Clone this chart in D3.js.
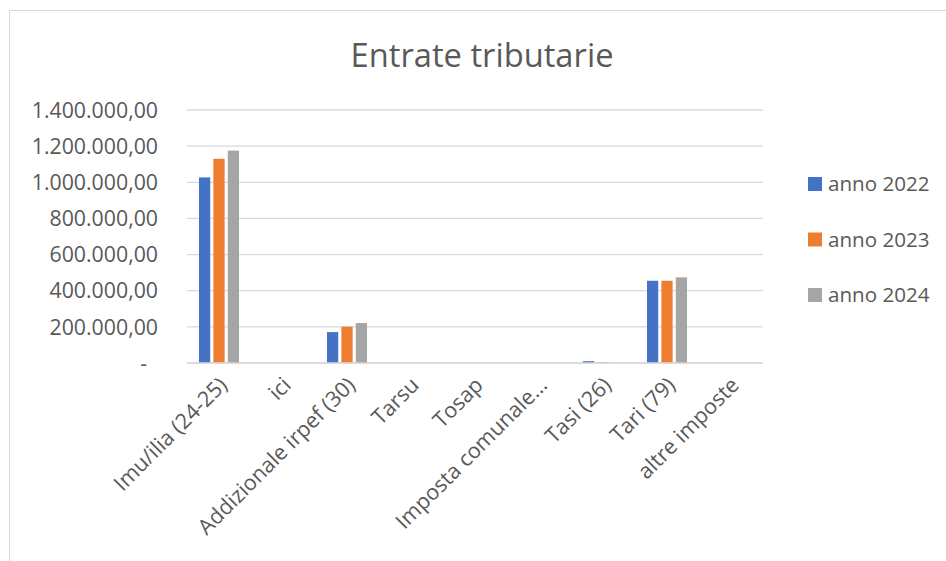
<!DOCTYPE html>
<html>
<head>
<meta charset="utf-8">
<script src="https://cdn.jsdelivr.net/npm/d3@7"></script>
<style>
  body { margin: 0; background: #fff; }
  text { font-family: "Open Sans", sans-serif; fill: #595959; }
</style>
</head>
<body>
<script>
const categories = ["Imu/ilia (24-25)", "ici", "Addizionale irpef (30)", "Tarsu", "Tosap",
                    "Imposta comunale...", "Tasi (26)", "Tari (79)", "altre imposte"];
const seriesNames = ["anno 2022", "anno 2023", "anno 2024"];
const anno2022 = [1027000, 0, 171000, 0, 0, 0, 10000, 455000, 0];
const anno2023 = [1130000, 0, 201000, 0, 0, 0, 4000, 455000, 0];
const anno2024 = [1175000, 0, 221000, 0, 0, 0, 0, 474000, 0];
const yTicks = [0, 200000, 400000, 600000, 800000, 1000000, 1200000, 1400000];
const colors = ["#4472C4", "#ED7D31", "#A5A5A5"];

const series = [anno2022, anno2023, anno2024];
const table = categories.map((c, i) => ({ cat: c, vals: series.map(s => s[i]) }));

const width = 946, height = 561;
const plot = { left: 187, right: 763, top: 110, bottom: 363 };

const it = d3.formatLocale({ decimal: ",", thousands: ".", grouping: [3], currency: ["", ""] });
const fmt = it.format(",.2f");

const svg = d3.select("body").append("svg")
    .attr("width", width)
    .attr("height", height);

// chart frame
svg.append("rect")
    .attr("x", 9.5).attr("y", 10.5)
    .attr("width", 1000).attr("height", 1000)
    .attr("fill", "none")
    .attr("stroke", "#d9d9d9");

const x0 = d3.scaleBand()
    .domain(categories)
    .range([plot.left, plot.right])
    .paddingInner(0.375)
    .paddingOuter(0.1875);

const x1 = d3.scaleBand()
    .domain(seriesNames)
    .range([0, x0.bandwidth()])
    .paddingInner(0.22);

const y = d3.scaleLinear()
    .domain([0, 1400000])
    .range([plot.bottom, plot.top]);

// gridlines
svg.append("g")
  .selectAll("line")
  .data(yTicks)
  .join("line")
    .attr("x1", plot.left).attr("x2", plot.right)
    .attr("y1", d => y(d)).attr("y2", d => y(d))
    .attr("stroke", "#d9d9d9")
    .attr("stroke-width", 1.3);

// y labels
svg.append("g")
  .selectAll("text")
  .data(yTicks)
  .join("text")
    .attr("x", d => d === 0 ? 147 : 158)
    .attr("y", d => y(d))
    .attr("dy", "0.36em")
    .attr("text-anchor", "end")
    .style("font-size", "21.3px")
    .text(d => d === 0 ? "-" : fmt(d));

// bars
svg.append("g")
  .selectAll("g")
  .data(table)
  .join("g")
    .attr("transform", d => `translate(${x0(d.cat)},0)`)
  .selectAll("rect")
  .data(d => d.vals.map((v, j) => ({ v, name: seriesNames[j], j })))
  .join("rect")
    .attr("x", d => x1(d.name))
    .attr("y", d => y(d.v))
    .attr("width", x1.bandwidth())
    .attr("height", d => y(0) - y(d.v))
    .attr("fill", d => colors[d.j]);

// x axis line
svg.append("line")
    .attr("x1", plot.left).attr("x2", plot.right)
    .attr("y1", plot.bottom).attr("y2", plot.bottom)
    .attr("stroke", "#d9d9d9")
    .attr("stroke-width", 1.3);

// category labels
svg.append("g")
  .selectAll("text")
  .data(categories)
  .join("text")
    .attr("transform", d => `translate(${x0(d) + x0.bandwidth() / 2 - 2},375) rotate(-45)`)
    .attr("dy", "0.75em")
    .attr("text-anchor", "end")
    .style("font-size", "21.5px")
    .text(d => d);

// title
svg.append("text")
    .attr("x", 482)
    .attr("y", 67)
    .attr("text-anchor", "middle")
    .style("font-size", "32.7px")
    .text("Entrate tributarie");

// legend
const legend = svg.append("g")
  .selectAll("g")
  .data(seriesNames)
  .join("g")
    .attr("transform", (d, i) => `translate(808,${184 + i * 55.5})`);

legend.append("rect")
    .attr("x", 0).attr("y", -7)
    .attr("width", 14).attr("height", 14)
    .attr("fill", (d, i) => colors[i]);

legend.append("text")
    .attr("x", 20)
    .attr("dy", "0.36em")
    .style("font-size", "20.6px")
    .text(d => d);
</script>
</body>
</html>
